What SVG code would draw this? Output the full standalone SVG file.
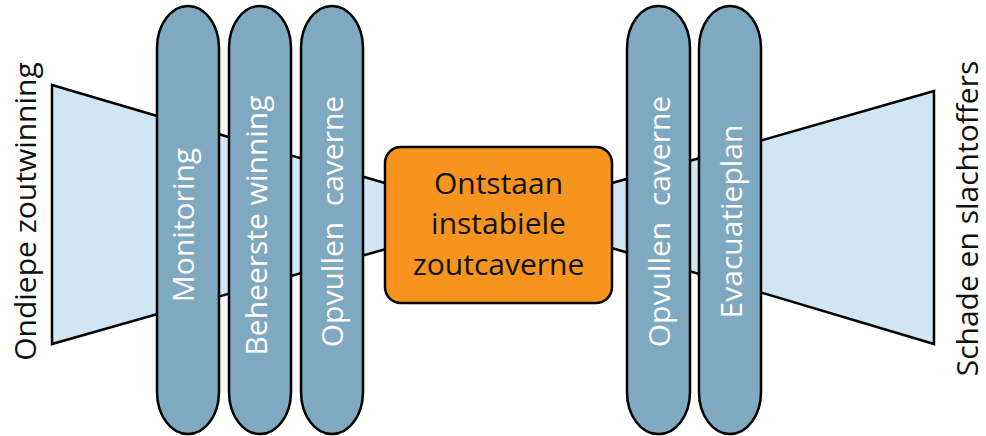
<svg xmlns="http://www.w3.org/2000/svg" width="986" height="436" viewBox="0 0 986 436">
  <style>
    .wedge { fill: #D0E6F5; stroke: #000; stroke-width: 2.5; stroke-linejoin: miter; }
    .pill { fill: #7FA8C1; stroke: #000; stroke-width: 2.5; }
    .top { fill: #F7941E; stroke: #000; stroke-width: 2.5; }
    .lbl { font-family: "Open Sans", "Noto Sans", sans-serif; font-size: 30px; text-anchor: middle; }
    .dark { fill: #111; }
    .light { fill: #fff; }
  </style>
  <rect width="986" height="436" fill="#fff"/>
  <g id="threat">
    <polygon class="wedge" points="52,85 400,187.5 400,245 52,344"/>
    <text class="lbl dark" transform="translate(36,211.5) rotate(-90)">Ondiepe zoutwinning</text>
  </g>
  <g id="consequence">
    <polygon class="wedge" points="934,91 600,186.5 600,244.5 934,344"/>
    <text class="lbl dark" transform="translate(978,218.5) rotate(-90)">Schade en slachtoffers</text>
  </g>
  <g id="connectors"></g>
  <g id="barrier-monitoring">
    <rect class="pill" x="157" y="6" width="62" height="428" rx="31" ry="42"/>
    <text class="lbl light" transform="translate(194,225) rotate(-90)">Monitoring</text>
  </g>
  <g id="barrier-beheerste-winning">
    <rect class="pill" x="229" y="6" width="62" height="428" rx="31" ry="42"/>
    <text class="lbl light" transform="translate(267,225.5) rotate(-90)">Beheerste winning</text>
  </g>
  <g id="barrier-opvullen-1">
    <rect class="pill" x="301" y="6" width="62" height="428" rx="31" ry="42"/>
    <text class="lbl light" transform="translate(343,221.5) rotate(-90)" xml:space="preserve">Opvullen  caverne</text>
  </g>
  <g id="top-event">
    <rect class="top" x="385" y="147" width="227" height="156" rx="16" ry="16"/>
    <text class="lbl dark" x="498.5" y="194">Ontstaan</text>
    <text class="lbl dark" x="498.5" y="234">instabiele</text>
    <text class="lbl dark" x="498.5" y="275">zoutcaverne</text>
  </g>
  <g id="barrier-opvullen-2">
    <rect class="pill" x="627" y="6" width="63" height="428" rx="31" ry="42"/>
    <text class="lbl light" transform="translate(670,221.5) rotate(-90)" xml:space="preserve">Opvullen  caverne</text>
  </g>
  <g id="barrier-evacuatieplan">
    <rect class="pill" x="699" y="6" width="62" height="428" rx="31" ry="42"/>
    <text class="lbl light" transform="translate(742,221.5) rotate(-90)">Evacuatieplan</text>
  </g>
</svg>
